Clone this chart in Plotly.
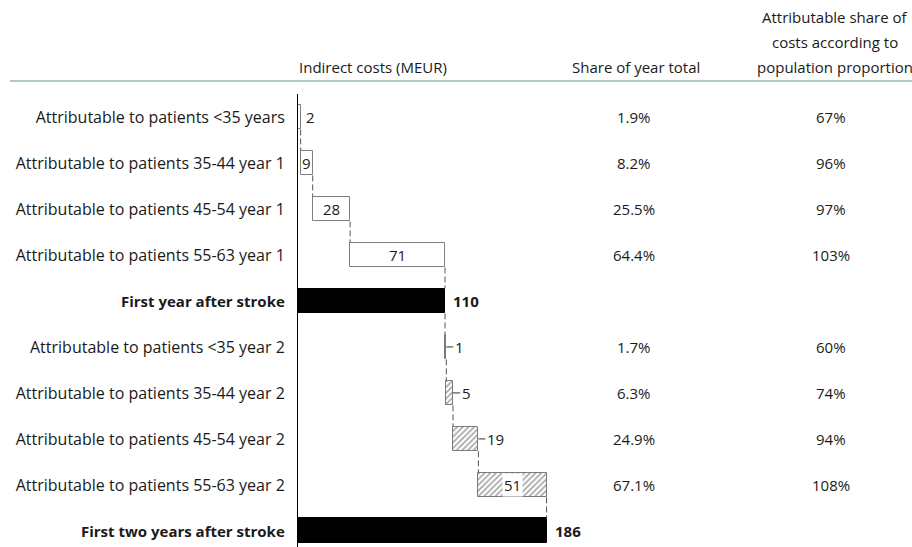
import plotly.graph_objects as go
import numpy as np

categories = [
    "Attributable to patients <35 years",
    "Attributable to patients 35-44 year 1",
    "Attributable to patients 45-54 year 1",
    "Attributable to patients 55-63 year 1",
    "First year after stroke",
    "Attributable to patients <35 year 2",
    "Attributable to patients 35-44 year 2",
    "Attributable to patients 45-54 year 2",
    "Attributable to patients 55-63 year 2",
    "First two years after stroke",
]
values_year1 = [2, 9, 28, 71]
total_year1 = 110
values_year2 = [1, 5, 19, 51]
total_year2 = 186
share_of_year = ["1.9%", "8.2%", "25.5%", "64.4%", "", "1.7%", "6.3%", "24.9%", "67.1%", ""]
attrib_share = ["67%", "96%", "97%", "103%", "", "60%", "74%", "94%", "108%", ""]
header_col1 = "Indirect costs (MEUR)"
header_col2 = "Share of year total"
header_col3 = ["Attributable share of", "costs according to", "population proportion"]

FONT = "Open Sans"
FS = 15
TXT = "#1a1a1a"

# geometry in pixels
W, H = 912, 547
L, T = 298, 94
PW, PH = W - L, H - T
PX_PER_UNIT = (445 - 298) / 110.0
XMAX = PW / PX_PER_UNIT
BW = 0.54

def px_x(px):
    return (px - L) / PW

def px_y(py):
    return 1 - (py - T) / PH

# cumulative computations
bases1 = np.concatenate([[0], np.cumsum(values_year1)[:-1]])
bases2 = total_year1 + np.concatenate([[0], np.cumsum(values_year2)[:-1]])
rows1 = [0, 1, 2, 3]
rows2 = [5, 6, 7, 8]
tot_rows = [4, 9]
totals = [total_year1, total_year2]

ticktext = []
for i, c in enumerate(categories):
    if i in tot_rows:
        ticktext.append('<span style="font-size:15px"><b>%s</b></span>' % c)
    else:
        ticktext.append(c)

fig = go.Figure()
fig.add_trace(go.Bar(
    y=rows1, x=values_year1, base=bases1, orientation="h", width=BW,
    marker=dict(color="white", line=dict(color="#808080", width=1)),
    showlegend=False, hoverinfo="skip"))
fig.add_trace(go.Bar(
    y=rows2, x=values_year2, base=bases2, orientation="h", width=BW,
    marker=dict(color="white", line=dict(color="#7a7a7a", width=1),
                pattern=dict(shape="/", fgcolor="#4a4a4a", bgcolor="white",
                             size=4, solidity=0.4)),
    showlegend=False, hoverinfo="skip"))
fig.add_trace(go.Bar(
    y=tot_rows, x=totals, base=[0, 0], orientation="h", width=BW,
    marker=dict(color="black", line=dict(color="black", width=1)),
    showlegend=False, hoverinfo="skip"))

# connectors
ends = list(np.cumsum(values_year1)) + [total_year1] + list(total_year1 + np.cumsum(values_year2))
cx, cy = [], []
for r, e in enumerate(ends):
    cx += [e, e, None]
    cy += [r + BW / 2, r + 1 - BW / 2, None]
fig.add_trace(go.Scatter(x=cx, y=cy, mode="lines",
                         line=dict(color="#555555", width=1, dash="6px,3px"),
                         showlegend=False, hoverinfo="skip"))

ann = []
# year-1 labels
for r, v, b in zip(rows1, values_year1, bases1):
    if r == 0:
        ann.append(dict(x=b + v, y=r, text=str(v), xanchor="left", xshift=3, showarrow=False))
    else:
        ann.append(dict(x=b + v / 2, y=r, text=str(v), xanchor="center", showarrow=False))
# year-2 labels
for r, v, b in zip(rows2, values_year2, bases2):
    if r == 8:
        ann.append(dict(x=b + v / 2, y=r, text=str(v), xanchor="center", showarrow=False,
                        bgcolor="white", borderpad=1))
    else:
        ann.append(dict(x=b + v, y=r, text=str(v), xanchor="left", showarrow=True,
                        arrowhead=0, arrowwidth=1, arrowcolor="#333", ax=7, ay=0,
                        standoff=0))
# totals
for r, v in zip(tot_rows, totals):
    ann.append(dict(x=v, y=r, text="<b>%d</b>" % v, xanchor="left", xshift=6, showarrow=False))
# table columns
for r, (s, a) in enumerate(zip(share_of_year, attrib_share)):
    if s:
        ann.append(dict(xref="paper", x=px_x(634), y=r, text=s, xanchor="center", showarrow=False))
    if a:
        ann.append(dict(xref="paper", x=px_x(831), y=r, text=a, xanchor="center", showarrow=False))
# headers
ann.append(dict(xref="paper", yref="paper", x=px_x(373), y=px_y(67), text=header_col1,
                xanchor="center", yanchor="middle", showarrow=False))
ann.append(dict(xref="paper", yref="paper", x=px_x(636), y=px_y(67), text=header_col2,
                xanchor="center", yanchor="middle", showarrow=False))
for k, line in enumerate(header_col3):
    ann.append(dict(xref="paper", yref="paper", x=px_x(835), y=px_y(17 + 25 * k), text=line,
                    xanchor="center", yanchor="middle", showarrow=False))

fig.update_layout(
    width=W, height=H,
    margin=dict(l=L, r=0, t=T, b=0, pad=0),
    paper_bgcolor="white", plot_bgcolor="white",
    font=dict(family=FONT, size=FS, color=TXT),
    annotations=ann,
    bargap=0,
    shapes=[dict(type="line", xref="paper", yref="paper",
                 x0=px_x(10), x1=px_x(912), y0=px_y(81), y1=px_y(81),
                 line=dict(color="#9db4bd", width=1.5))],
    xaxis=dict(range=[0, XMAX], visible=False, fixedrange=True),
    yaxis=dict(range=[9.35, -0.5], tickvals=list(range(len(categories))),
               ticktext=ticktext, showgrid=False, zeroline=False,
               showline=True, linecolor="black", linewidth=1,
               ticks="", ticklabelstandoff=9,
               tickfont=dict(family=FONT, size=16, color=TXT)),
)

fig.write_html("out.html")
